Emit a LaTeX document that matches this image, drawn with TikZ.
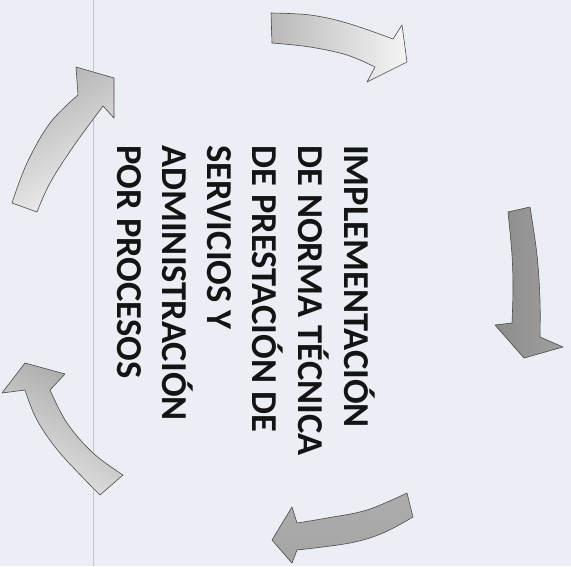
\documentclass[tikz,border=0pt]{standalone}
\usepackage{fontspec}
\setmainfont{Carlito}
\definecolor{bgc}{HTML}{EBEEF4}
\definecolor{edgec}{HTML}{4A4A4A}
\tikzset{
  arrowshape/.style={draw=edgec, line width=0.6pt, line join=round},
  txt/.style={rotate=-90, anchor=base west, inner sep=0pt, text=black!92,
    font=\fontsize{36.5}{40}\selectfont\bfseries}
}
\begin{document}
\begin{tikzpicture}[x=1pt,y=-1pt]
\useasboundingbox (0,0) rectangle (571,566);
\fill[bgc] (0,0) rectangle (571,566);
\draw[gray!45, line width=0.8pt] (93,0) -- (93,566);

% arrow 1 (top)
\path[arrowshape, left color=gray!55, right color=gray!8]
  plot[smooth, tension=0.6] coordinates {(271,13) (310,15) (347,23) (393,39)}
  -- (402,25) -- (407,62) -- (367,82) -- (375,67)
  -- plot[smooth, tension=0.6] coordinates {(375,67) (347,55) (310,47) (272,43)}
  -- cycle;

% arrow 2 (right)
\path[arrowshape, left color=gray!90, middle color=gray!35, right color=gray!75]
  plot[smooth, tension=0.6] coordinates {(508,212) (530,207)}
  -- plot[smooth, tension=0.6] coordinates {(530,207) (537,255) (540,300) (540,337)}
  -- (563,347) -- (524,358) -- (495,325) -- (512,323)
  -- plot[smooth, tension=0.6] coordinates {(512,323) (513,290) (512,255) (508,212)}
  -- cycle;

% arrow 3 (bottom right)
\path[arrowshape, top color=gray!65, middle color=gray!95, bottom color=gray!70]
  plot[smooth, tension=0.6] coordinates {(413,517) (383,533) (350,543) (297,550)}
  -- (292,563) -- (272,540) -- (292,507) -- (297,523)
  -- plot[smooth, tension=0.6] coordinates {(297,523) (327,518) (367,510) (407,493)}
  -- cycle;

% arrow 4 (bottom left)
\path[arrowshape, left color=gray!70, right color=gray!18, shading angle=-30]
  plot[smooth, tension=0.6] coordinates {(100,495) (60,453) (37,420) (25,390)}
  -- (2,393) -- (25,363) -- (65,374) -- (50,390)
  -- plot[smooth, tension=0.6] coordinates {(50,390) (67,423) (93,453) (123,475)}
  -- cycle;

% arrow 5 (top left)
\path[arrowshape, left color=gray!60, right color=gray!12, shading angle=30]
  plot[smooth, tension=0.6] coordinates {(12,203) (27,163) (50,123) (78,95)}
  -- (76,67) -- (114,78) -- (114,118) -- (103,106)
  -- plot[smooth, tension=0.6] coordinates {(103,106) (73,147) (50,183) (37,212)}
  -- cycle;

\node[txt] (l1) at (344,145) {IMPLEMENTACIÓN};
\node[txt] (l2) at (298,145) {DE NORMA TÉCNICA};
\node[txt] (l3) at (252,145) {DE PRESTACIÓN DE};
\node[txt] (l4) at (207,145) {SERVICIOS Y};
\node[txt] (l5) at (162,145) {ADMINISTRACIÓN};
\node[txt] (l6) at (117,145) {POR PROCESOS};
\end{tikzpicture}
\end{document}
